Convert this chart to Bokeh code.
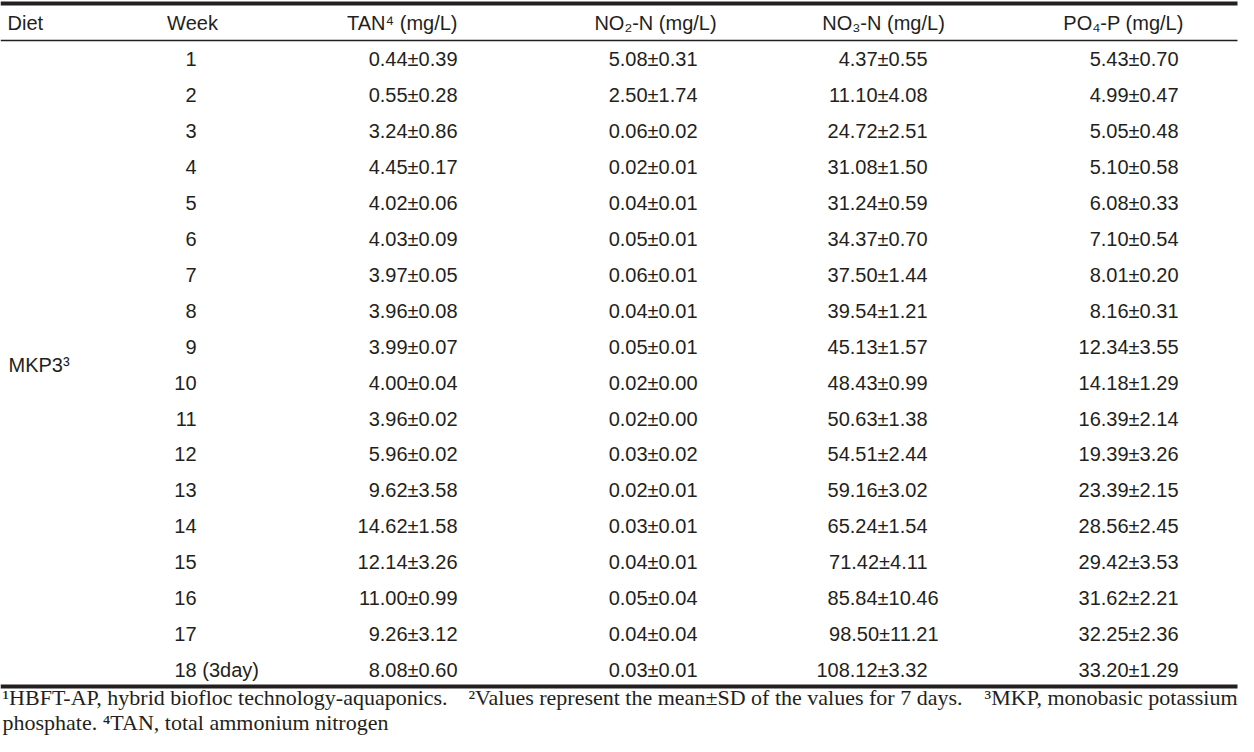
from bokeh.plotting import figure
from bokeh.models import Range1d, ColumnDataSource
from bokeh.embed import file_html
from bokeh.resources import INLINE
from bokeh.core.properties import value

# ---------------- data ----------------
headers = ["Diet", "Week", "TAN\u2074 (mg/L)", "NO\u2082-N (mg/L)", "NO\u2083-N (mg/L)", "PO\u2084-P (mg/L)"]
diet_label = "MKP3\u00b3"
weeks = ["1", "2", "3", "4", "5", "6", "7", "8", "9", "10", "11", "12", "13", "14", "15", "16", "17", "18 (3day)"]
tan_mean = [0.44, 0.55, 3.24, 4.45, 4.02, 4.03, 3.97, 3.96, 3.99, 4.00, 3.96, 5.96, 9.62, 14.62, 12.14, 11.00, 9.26, 8.08]
tan_sd = [0.39, 0.28, 0.86, 0.17, 0.06, 0.09, 0.05, 0.08, 0.07, 0.04, 0.02, 0.02, 3.58, 1.58, 3.26, 0.99, 3.12, 0.60]
no2_mean = [5.08, 2.50, 0.06, 0.02, 0.04, 0.05, 0.06, 0.04, 0.05, 0.02, 0.02, 0.03, 0.02, 0.03, 0.04, 0.05, 0.04, 0.03]
no2_sd = [0.31, 1.74, 0.02, 0.01, 0.01, 0.01, 0.01, 0.01, 0.01, 0.00, 0.00, 0.02, 0.01, 0.01, 0.01, 0.04, 0.04, 0.01]
no3_mean = [4.37, 11.10, 24.72, 31.08, 31.24, 34.37, 37.50, 39.54, 45.13, 48.43, 50.63, 54.51, 59.16, 65.24, 71.42, 85.84, 98.50, 108.12]
no3_sd = [0.55, 4.08, 2.51, 1.50, 0.59, 0.70, 1.44, 1.21, 1.57, 0.99, 1.38, 2.44, 3.02, 1.54, 4.11, 10.46, 11.21, 3.32]
po4_mean = [5.43, 4.99, 5.05, 5.10, 6.08, 7.10, 8.01, 8.16, 12.34, 14.18, 16.39, 19.39, 23.39, 28.56, 29.42, 31.62, 32.25, 33.20]
po4_sd = [0.70, 0.47, 0.48, 0.58, 0.33, 0.54, 0.20, 0.31, 3.55, 1.29, 2.14, 3.26, 2.15, 2.45, 3.53, 2.21, 2.36, 1.29]
footnote_1a = "\u00b9HBFT-AP, hybrid biofloc technology-aquaponics."
footnote_1b = "\u00b2Values represent the mean\u00b1SD of the values for 7 days."
footnote_1c = "\u00b3MKP, monobasic potassium"
footnote_2 = "phosphate. \u2074TAN, total ammonium nitrogen"

# ---------------- style ----------------
INK = "#231f20"
SANS = "Liberation Sans"
SERIF = "Liberation Serif"
FS = "20px"
FN_FS = "22px"
DY = -8.0          # svg text sits lower than the alphabetic baseline; compensate
ROW0 = 66.5
ROW_STEP = 35.95
DIGIT_W = 11.1
PM_SD_W = 50.5   # width of "±X.XX" at FS

W, H = 1238, 736
p = figure(width=W, height=H, output_backend="svg", toolbar_location=None,
           x_range=Range1d(0, W), y_range=Range1d(H, 0),
           x_axis_location=None, y_axis_location=None, min_border=0,
           outline_line_color=None, background_fill_color="white", border_fill_color="white")
p.grid.visible = False

n = len(weeks)
ys = [ROW0 + ROW_STEP * i + DY for i in range(n)]

# rules
p.segment(x0=[0], y0=[3], x1=[1237], y1=[3], line_color=INK, line_width=4)
p.segment(x0=[0], y0=[40], x1=[1237], y1=[40], line_color=INK, line_width=1.5)
p.segment(x0=[0], y0=[686], x1=[1237], y1=[686], line_color=INK, line_width=4)

def txt(x, y, t, align="left", font=SANS, size=FS):
    p.text(x=x, y=[v + DY for v in y], text=t, text_align=align, text_baseline="alphabetic",
           text_font=value(font), text_font_size=size, text_color=INK)

# header
hy = 30
txt([7], [hy], [headers[0]])
txt([192], [hy], [headers[1]], "center")
txt([457], [hy], [headers[2]], "right")
txt([655], [hy], [headers[3]], "center")
txt([883], [hy], [headers[4]], "center")
txt([1123], [hy], [headers[5]], "center")

# diet label
txt([8], [ROW0 + ROW_STEP * 8.5], [diet_label])

# week column
p.text(x=[196] * (n - 1), y=ys[:-1], text=weeks[:-1], text_align="right", text_baseline="alphabetic",
       text_font=value(SANS), text_font_size=FS, text_color=INK)
p.text(x=[174], y=[ys[-1]], text=[weeks[-1]], text_align="left", text_baseline="alphabetic",
       text_font=value(SANS), text_font_size=FS, text_color=INK)

# value columns: aligned on the ± sign
def col(means, sds, x_pm):
    labels = [f"{m:.2f}\u00b1{s:.2f}" for m, s in zip(means, sds)]
    xs = [x_pm + PM_SD_W + DIGIT_W * (len(f"{s:.2f}") - 4) for s in sds]
    src = ColumnDataSource(dict(x=xs, y=ys, t=labels))
    p.text(x="x", y="y", text="t", source=src, text_align="right", text_baseline="alphabetic",
           text_font=value(SANS), text_font_size=FS, text_color=INK)

col(tan_mean, tan_sd, 457 - PM_SD_W)
col(no2_mean, no2_sd, 697 - PM_SD_W)
col(no3_mean, no3_sd, 927 - PM_SD_W)
col(po4_mean, po4_sd, 1178 - PM_SD_W)

# footnotes
txt([2], [705], [footnote_1a], "left", SERIF, FN_FS)
txt([468], [705], [footnote_1b], "left", SERIF, FN_FS)
txt([1237], [705], [footnote_1c], "right", SERIF, FN_FS)
txt([2], [730], [footnote_2], "left", SERIF, FN_FS)

open("out.html", "w").write(file_html(p, INLINE))
